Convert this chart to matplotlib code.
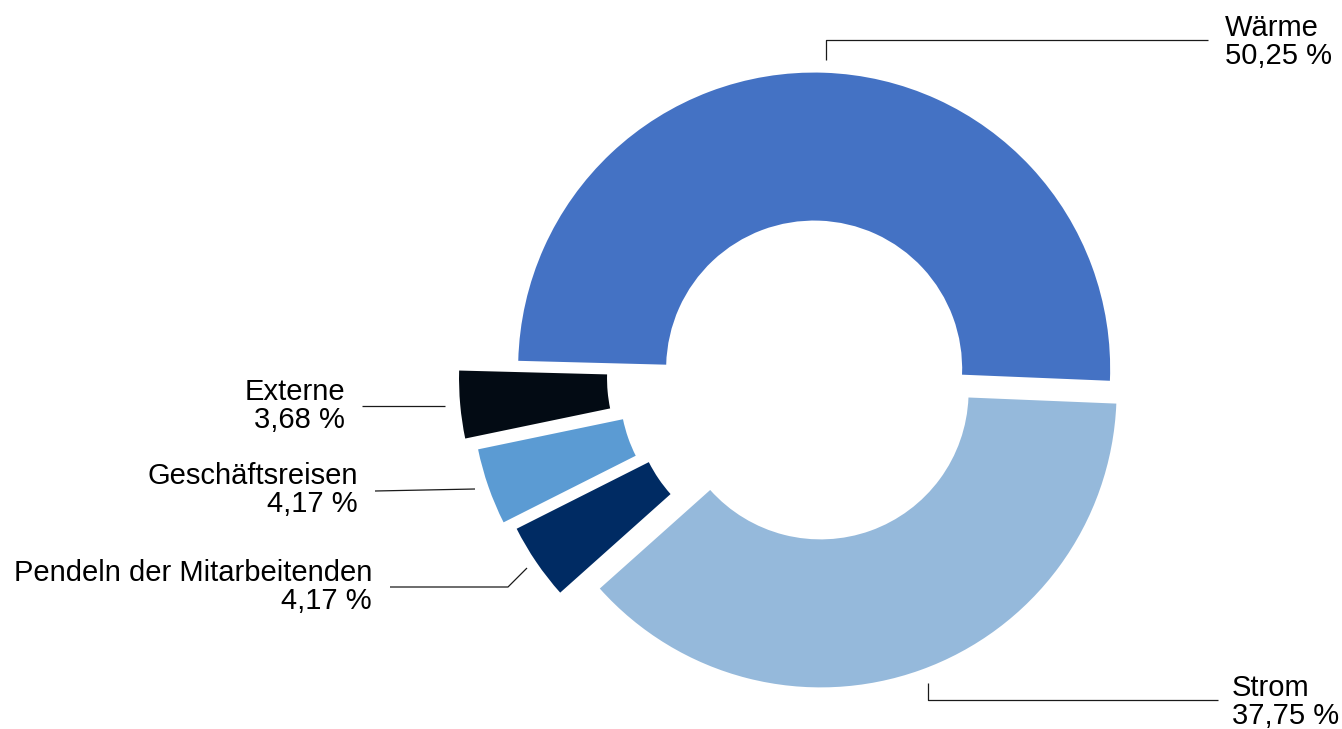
import matplotlib.pyplot as plt

plt.rcParams['font.family'] = ['Liberation Sans', 'DejaVu Sans']

labels = ['Wärme', 'Strom', 'Pendeln der Mitarbeitenden', 'Geschäftsreisen', 'Externe']
shares = [50.25, 37.75, 4.17, 4.17, 3.68]
share_text = ['50,25 %', '37,75 %', '4,17 %', '4,17 %', '3,68 %']
colors = ['#4472C4', '#95B9DB', '#002B63', '#5B9BD3', '#030B14']
explode = [0.015, 0.066, 0.135, 0.165, 0.2]  # fraction of radius

fig = plt.figure(figsize=(13.42, 7.29), dpi=100)
ax = fig.add_axes([0, 0, 1, 1])

# pixel-like data space: 1 unit = 1 px
R = 296
ax.pie(shares, colors=colors, explode=[e * R for e in explode], startangle=178.5,
       counterclock=False, center=(814, 356), radius=R,
       wedgeprops=dict(width=R / 2, linewidth=0))
ax.set_xlim(0, 1342)
ax.set_ylim(0, 729)
ax.set_aspect('auto')
ax.axis('off')

# leader lines: (points, text position, alignment)
leaders = [
    ([(826, 669), (826, 689), (1208, 689)], (1225, 687), 'left'),
    ([(928, 46), (928, 29), (1218, 29)], (1232, 27), 'left'),
    ([(527, 161), (508, 142), (390, 142)], (372, 142), 'right'),
    ([(475, 240), (375, 238)], (358, 239), 'right'),
    ([(445, 323), (362, 323)], (345, 323), 'right'),
]
for (pts, tpos, ha), name, val in zip(leaders, labels, share_text):
    xs, ys = zip(*pts)
    ax.plot(xs, ys, color='#1a1a1a', lw=0.9, solid_capstyle='butt')
    ax.text(tpos[0], tpos[1], name + '\n' + val, ha=ha, va='center',
            fontsize=21, linespacing=1.02, color='black',
            multialignment=ha)

fig.savefig('out.png', dpi=100)
